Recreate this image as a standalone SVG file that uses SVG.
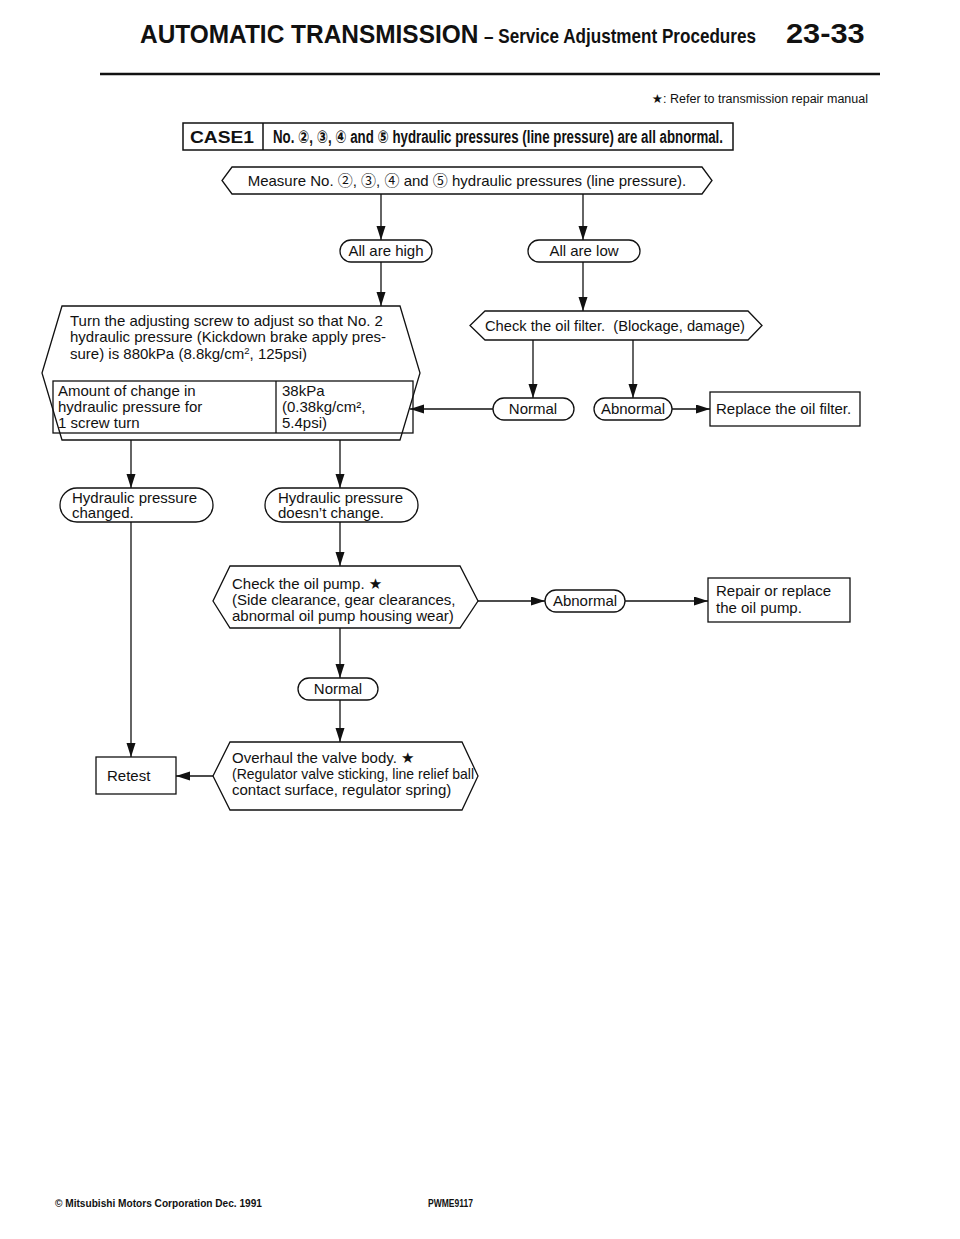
<svg xmlns="http://www.w3.org/2000/svg" width="960" height="1239" viewBox="0 0 960 1239">
<defs>
<style>
text{font-family:"Liberation Sans","DejaVu Sans",Arial,sans-serif;fill:#111;}
.t{font-size:15px;}
.b{font-weight:bold;}
.c{text-anchor:middle;}
.cd{font-family:"Noto Sans CJK JP","DejaVu Sans",sans-serif;}
.shape{fill:#fff;stroke:#111;stroke-width:1.3;}
.conn{fill:none;stroke:#111;stroke-width:1.3;marker-end:url(#arr);}
.pre{white-space:pre;}
</style>
<marker id="arr" markerUnits="userSpaceOnUse" markerWidth="15" markerHeight="10" refX="14" refY="4.5" orient="auto">
<path d="M0,0 L14,4.5 L0,9 z" fill="#111"/>
</marker>
</defs>
<rect width="960" height="1239" fill="#fff"/>

<g id="header">
<text transform="translate(140,43) scale(0.94,1)" class="b" font-size="26">AUTOMATIC TRANSMISSION</text>
<text transform="translate(484,43) scale(0.855,1)" class="b" font-size="20">– Service Adjustment Procedures</text>
<text transform="translate(786,43) scale(1.1,1)" class="b" font-size="28">23-33</text>
<line x1="100" y1="74" x2="880" y2="74" stroke="#111" stroke-width="2.6"/>
<text x="868" y="103" font-size="12.5" text-anchor="end">★: Refer to transmission repair manual</text>
</g>

<g id="case1">
<rect x="183" y="123" width="550" height="27" fill="#fff" stroke="#111" stroke-width="1.5"/>
<line x1="263" y1="123" x2="263" y2="150" stroke="#111" stroke-width="1.5"/>
<text x="190" y="143" class="b" font-size="17" textLength="64" lengthAdjust="spacingAndGlyphs">CASE1</text>
<text x="273" y="143" class="b" font-size="17.5" textLength="450" lengthAdjust="spacingAndGlyphs">No. ②, ③, ④ and ⑤ hydraulic pressures (line pressure) are all abnormal.</text>
</g>

<g id="connectors">
<line class="conn" x1="381" y1="194" x2="381" y2="240"/>
<line class="conn" x1="583" y1="194" x2="583" y2="240"/>
<line class="conn" x1="381" y1="262" x2="381" y2="306"/>
<line class="conn" x1="583" y1="262" x2="583" y2="311"/>
<line class="conn" x1="533" y1="340" x2="533" y2="398"/>
<line class="conn" x1="633" y1="340" x2="633" y2="398"/>
<line class="conn" x1="493" y1="409" x2="410" y2="409"/>
<line class="conn" x1="672" y1="409" x2="710" y2="409"/>
<line class="conn" x1="131" y1="440" x2="131" y2="488"/>
<line class="conn" x1="340" y1="440" x2="340" y2="488"/>
<line class="conn" x1="131" y1="522" x2="131" y2="757"/>
<line class="conn" x1="340" y1="522" x2="340" y2="566"/>
<line class="conn" x1="478" y1="601" x2="545" y2="601"/>
<line class="conn" x1="625" y1="601" x2="708" y2="601"/>
<line class="conn" x1="340" y1="628" x2="340" y2="678"/>
<line class="conn" x1="340" y1="700" x2="340" y2="742"/>
<line class="conn" x1="213" y1="776" x2="176" y2="776"/>
</g>

<g id="measure">
<polygon class="shape" points="232,167 702,167 712,180.5 702,194 232,194 222,180.5"/>
<text x="467" y="186" class="t c">Measure No. <tspan class="cd">②</tspan>, <tspan class="cd">③</tspan>, <tspan class="cd">④</tspan> and <tspan class="cd">⑤</tspan> hydraulic pressures (line pressure).</text>
</g>

<g id="all-high">
<rect class="shape" x="340" y="240" width="92" height="22" rx="11"/>
<text x="386" y="256" class="t c">All are high</text>
</g>

<g id="all-low">
<rect class="shape" x="528" y="240" width="112" height="22" rx="11"/>
<text x="584" y="256" class="t c">All are low</text>
</g>

<g id="adjust-screw">
<polygon class="shape" points="62,306 400,306 420,373 400,440 62,440 42,373"/>
<text x="70" y="326" class="t">Turn the adjusting screw to adjust so that No. 2</text>
<text x="70" y="342" class="t">hydraulic pressure (Kickdown brake apply pres-</text>
<text x="70" y="359" class="t">sure) is 880kPa (8.8kg/cm<tspan font-size="9.5" dy="-5">2</tspan><tspan dy="5">, 125psi)</tspan></text>
<rect x="53" y="381" width="360" height="52" fill="none" stroke="#111" stroke-width="1.3"/>
<line x1="276" y1="381" x2="276" y2="433" stroke="#111" stroke-width="1.3"/>
<text x="58" y="396" class="t">Amount of change in</text>
<text x="58" y="412" class="t">hydraulic pressure for</text>
<text x="58" y="428" class="t">1 screw turn</text>
<text x="282" y="396" class="t">38kPa</text>
<text x="282" y="412" class="t">(0.38kg/cm²,</text>
<text x="282" y="428" class="t">5.4psi)</text>
</g>

<g id="check-filter">
<polygon class="shape" points="485,311 748,311 762,325.5 748,340 485,340 470,325.5"/>
<text x="485" y="331" class="t pre" textLength="260" lengthAdjust="spacingAndGlyphs">Check the oil filter.  (Blockage, damage)</text>
</g>

<g id="filter-normal">
<rect class="shape" x="493" y="398" width="81" height="22" rx="11"/>
<text x="533" y="414" class="t c">Normal</text>
</g>

<g id="filter-abnormal">
<rect class="shape" x="594" y="398" width="78" height="22" rx="11"/>
<text x="633" y="414" class="t c">Abnormal</text>
</g>

<g id="replace-filter">
<rect class="shape" x="710" y="392" width="150" height="34"/>
<text x="716" y="414" class="t">Replace the oil filter.</text>
</g>

<g id="pressure-changed">
<rect class="shape" x="60" y="488" width="153" height="34" rx="17"/>
<text x="72" y="503" class="t">Hydraulic pressure</text>
<text x="72" y="518" class="t">changed.</text>
</g>

<g id="pressure-unchanged">
<rect class="shape" x="265" y="488" width="153" height="34" rx="17"/>
<text x="278" y="503" class="t">Hydraulic pressure</text>
<text x="278" y="518" class="t">doesn’t change.</text>
</g>

<g id="check-pump">
<polygon class="shape" points="230,566 460,566 478,601 460,628 230,628 213,601"/>
<text x="232" y="589" class="t">Check the oil pump. ★</text>
<text x="232" y="605" class="t">(Side clearance, gear clearances,</text>
<text x="232" y="621" class="t">abnormal oil pump housing wear)</text>
</g>

<g id="pump-abnormal">
<rect class="shape" x="545" y="590" width="80" height="22" rx="11"/>
<text x="585" y="606" class="t c">Abnormal</text>
</g>

<g id="repair-pump">
<rect class="shape" x="708" y="578" width="142" height="44"/>
<text x="716" y="596" class="t">Repair or replace</text>
<text x="716" y="613" class="t">the oil pump.</text>
</g>

<g id="pump-normal">
<rect class="shape" x="298" y="678" width="80" height="22" rx="11"/>
<text x="338" y="694" class="t c">Normal</text>
</g>

<g id="overhaul-valve">
<polygon class="shape" points="230,742 462,742 478,776 462,810 230,810 213,776"/>
<text x="232" y="763" class="t">Overhaul the valve body. ★</text>
<text x="232" y="779" class="t" textLength="242" lengthAdjust="spacingAndGlyphs">(Regulator valve sticking, line relief ball</text>
<text x="232" y="795" class="t">contact surface, regulator spring)</text>
</g>

<g id="retest">
<rect class="shape" x="96" y="757" width="80" height="37"/>
<text x="107" y="781" class="t">Retest</text>
</g>

<g id="footer">
<text x="55" y="1207" class="b" font-size="11" textLength="207" lengthAdjust="spacingAndGlyphs">© Mitsubishi Motors Corporation  Dec. 1991</text>
<text x="428" y="1207" class="b" font-size="11" textLength="45" lengthAdjust="spacingAndGlyphs">PWME9117</text>
</g>
</svg>
